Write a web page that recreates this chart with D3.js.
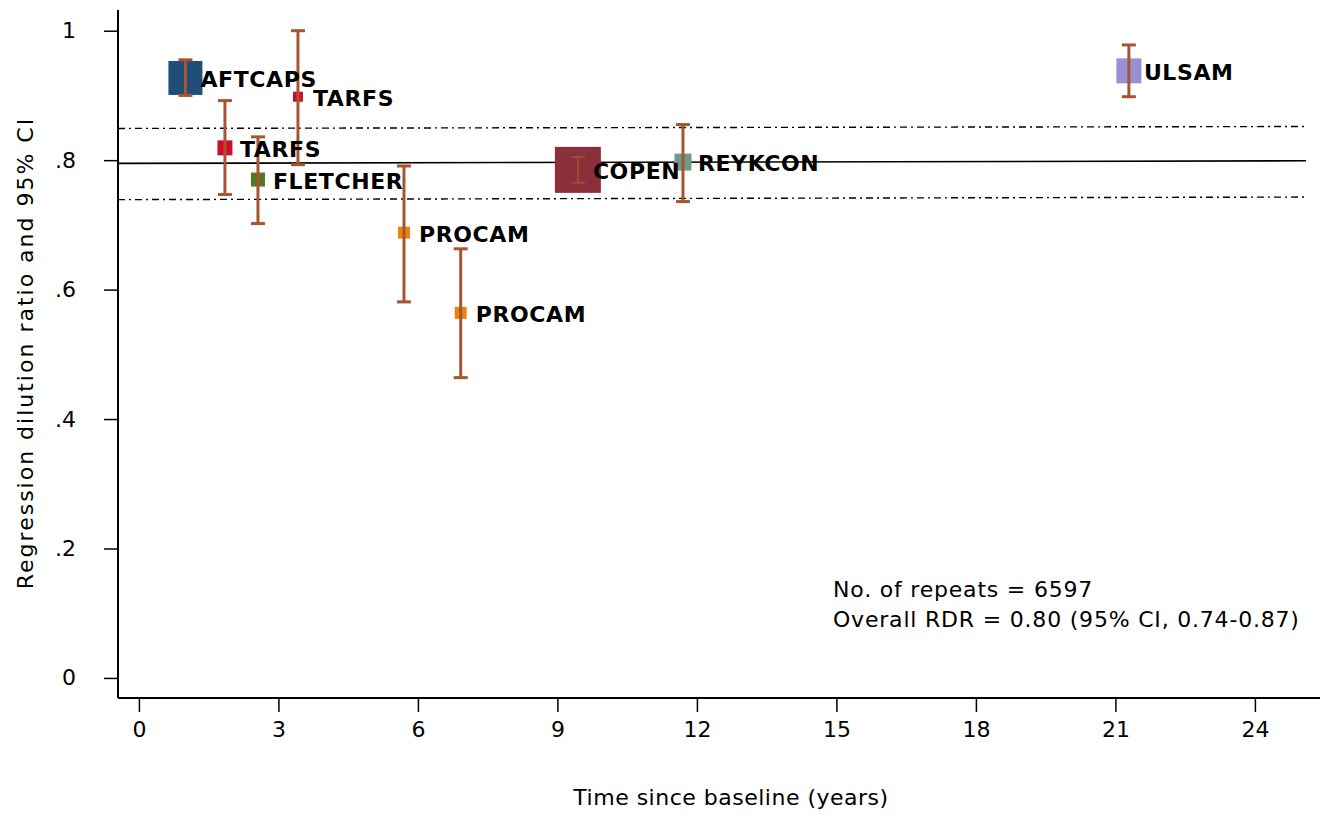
<!DOCTYPE html>
<html>
<head>
<meta charset="utf-8">
<script src="https://cdn.jsdelivr.net/npm/d3@7"></script>
<style>
  html, body { margin: 0; padding: 0; background: #fff; }
  svg { display: block; font-family: "DejaVu Sans", Verdana, sans-serif; }
</style>
</head>
<body>
<svg id="chart" width="1329" height="814"></svg>
<script>
// Study-level regression dilution ratios with 95% CI
const studies   = ["AFTCAPS", "TARFS", "TARFS", "FLETCHER", "PROCAM", "PROCAM", "COPEN", "REYKCON", "ULSAM"];
const years     = [1.0, 3.42, 1.85, 2.56, 5.70, 6.92, 9.44, 11.70, 21.29];
const rdr       = [0.927, 0.898, 0.819, 0.770, 0.688, 0.564, 0.785, 0.797, 0.938];
const ciLow     = [0.900, 0.793, 0.747, 0.702, 0.581, 0.464, 0.765, 0.736, 0.898];
const ciHigh    = [0.955, 1.000, 0.892, 0.836, 0.791, 0.663, 0.805, 0.855, 0.978];
const weights   = [1527, 132, 297, 259, 190, 190, 2795, 382, 825];
const colours   = ["#1f4e79", "#c8102e", "#c8102e", "#4f7a28", "#e8850c", "#e8850c", "#8b2f3a", "#6e9a8a", "#9890d4"];

// Pooled fit and its confidence band (value at start and end of the time range)
const fitYears  = [-0.45, 25.1];
const fitLine   = [0.795, 0.799];
const fitUpper  = [0.849, 0.852];
const fitLower  = [0.739, 0.743];

const xTicks = [0, 3, 6, 9, 12, 15, 18, 21, 24];
const yTicks = [0, 0.2, 0.4, 0.6, 0.8, 1];
const yTickLabels = ["0", ".2", ".4", ".6", ".8", "1"];
const noteLines = ["No. of repeats = 6597", "Overall RDR = 0.80 (95% CI, 0.74-0.87)"];

const svg = d3.select("#chart");
const plotLeft = 118, plotRight = 1320, plotTop = 10, plotBottom = 698;
const fontSize = "22px";

const x = d3.scaleLinear().domain([-0.45, 25.4]).range([plotLeft, plotRight]);
const y = d3.scaleLinear().domain([-0.031, 1.032]).range([plotBottom, plotTop]);
const side = d3.scaleSqrt().domain([0, d3.max(weights)]).range([0, 46]);

const data = studies.map((s, i) => ({
  name: s, t: years[i], v: rdr[i], lo: ciLow[i], hi: ciHigh[i], w: weights[i], c: colours[i]
}));

// Axes
const xAxis = svg.append("g").attr("transform", `translate(0,${plotBottom})`)
  .call(d3.axisBottom(x).tickValues(xTicks).tickSize(14).tickPadding(9).tickFormat(d3.format("d")));
const yAxis = svg.append("g").attr("transform", `translate(${plotLeft},0)`)
  .call(d3.axisLeft(y).tickValues(yTicks).tickSize(14).tickPadding(28)
    .tickFormat((d, i) => yTickLabels[i]));
[xAxis, yAxis].forEach(a => {
  a.select(".domain").attr("stroke", "#000").attr("stroke-width", 2);
  a.selectAll(".tick line").attr("stroke", "#000").attr("stroke-width", 1.5);
  a.selectAll(".tick text").attr("fill", "#000").style("font-size", fontSize)
    .style("font-family", "'DejaVu Sans', Verdana, sans-serif");
});
xAxis.select(".domain").attr("d", `M${plotLeft},0H${plotRight}`);
yAxis.select(".domain").attr("d", `M0,${plotTop}V${plotBottom}`);

// Axis titles
svg.append("text").attr("x", 731).attr("y", 805).attr("text-anchor", "middle")
  .style("font-size", fontSize).style("letter-spacing", "0.5px")
  .text("Time since baseline (years)");
svg.append("text").attr("transform", "translate(33,353) rotate(-90)").attr("text-anchor", "middle")
  .style("font-size", fontSize).style("letter-spacing", "2px")
  .text("Regression dilution ratio and 95% CI");

// Pooled fit line and dash-dot confidence limits
const fitGen = d3.line().x(d => x(d[0])).y(d => y(d[1]));
svg.append("path").attr("d", fitGen(fitYears.map((t, i) => [t, fitLine[i]])))
  .attr("fill", "none").attr("stroke", "#000").attr("stroke-width", 1.6);
[fitUpper, fitLower].forEach(band => {
  svg.append("path").attr("d", fitGen(fitYears.map((t, i) => [t, band[i]])))
    .attr("fill", "none").attr("stroke", "#000").attr("stroke-width", 1.4)
    .attr("stroke-dasharray", "7,4,2,4");
});

// Markers sized by weight
svg.append("g").selectAll("rect").data(data).join("rect")
  .attr("x", d => x(d.t) - side(d.w) / 2)
  .attr("y", d => y(d.v) - side(d.w) / 2)
  .attr("width", d => side(d.w))
  .attr("height", d => side(d.w))
  .attr("fill", d => d.c);

// Confidence intervals
const ci = svg.append("g").attr("stroke", "#a65530").attr("fill", "none");
data.forEach(d => {
  const sw = d.name === "COPEN" ? 2 : 3;
  const op = d.name === "COPEN" ? 0.75 : 1;
  const g = ci.append("g").attr("stroke-width", sw).attr("stroke-opacity", op);
  g.append("line").attr("x1", x(d.t)).attr("x2", x(d.t)).attr("y1", y(d.lo)).attr("y2", y(d.hi));
  [d.lo, d.hi].forEach(v => g.append("line")
    .attr("x1", x(d.t) - 7).attr("x2", x(d.t) + 7).attr("y1", y(v)).attr("y2", y(v)));
});

// Study labels
svg.append("g").selectAll("text").data(data).join("text")
  .attr("x", d => x(d.t) + 15)
  .attr("y", d => y(d.v) + 9)
  .style("font-size", fontSize).style("font-weight", "bold").style("letter-spacing", "0.6px")
  .attr("fill", "#000")
  .text(d => d.name);

// Summary note
svg.append("g").selectAll("text").data(noteLines).join("text")
  .attr("x", 833).attr("y", (d, i) => 597 + i * 30)
  .style("font-size", fontSize).style("letter-spacing", "0.8px").attr("fill", "#000").text(d => d);
</script>
</body>
</html>
